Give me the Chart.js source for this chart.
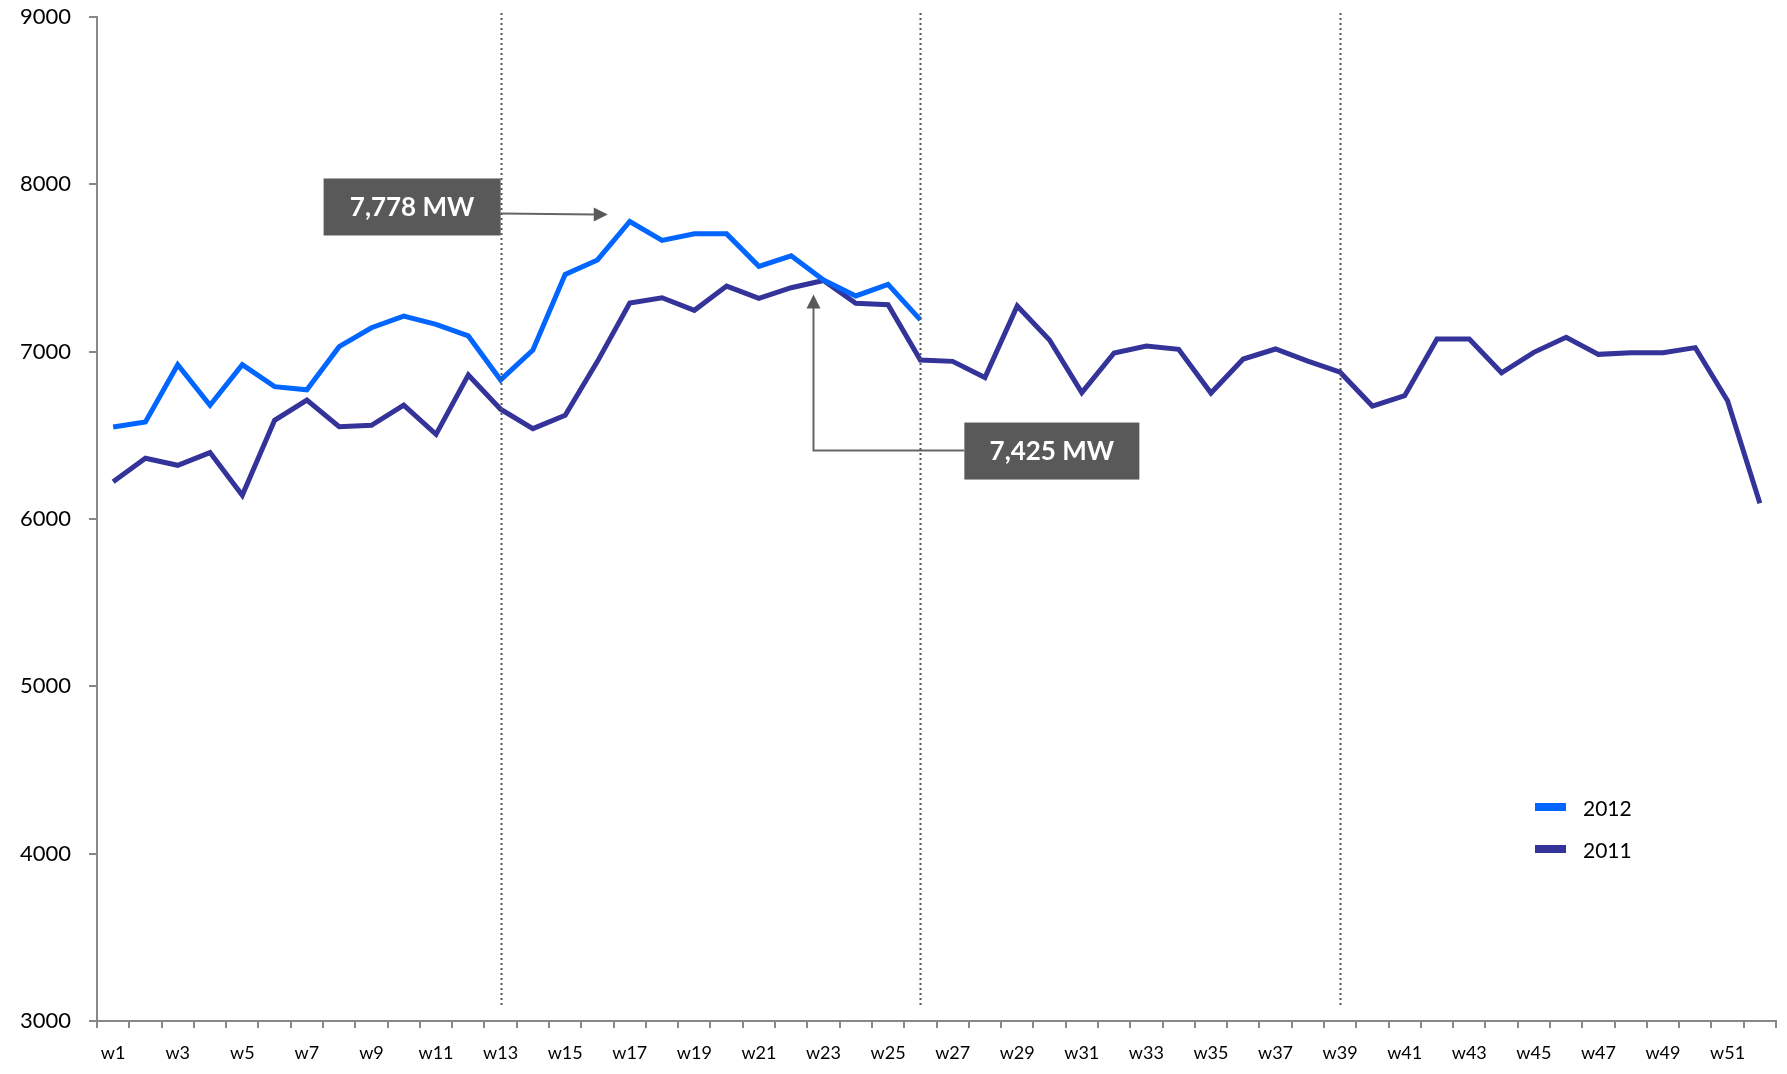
<!DOCTYPE html>
<html>
<head>
<meta charset="utf-8">
<script src="https://cdn.jsdelivr.net/npm/chart.js@4.4.1/dist/chart.umd.min.js"></script>
<style>
  html, body { margin: 0; padding: 0; background: #fff; }
  #wrap { width: 1787px; height: 1074px; }
</style>
</head>
<body>
<div id="wrap"><canvas id="myChart" width="1787" height="1074"></canvas></div>
<script>
// Semanas (categorías del eje X)
const weeks = ['w1','w2','w3','w4','w5','w6','w7','w8','w9','w10','w11','w12','w13',
               'w14','w15','w16','w17','w18','w19','w20','w21','w22','w23','w24','w25','w26',
               'w27','w28','w29','w30','w31','w32','w33','w34','w35','w36','w37','w38','w39',
               'w40','w41','w42','w43','w44','w45','w46','w47','w48','w49','w50','w51','w52'];

// Demanda semanal (MW)
const demand2012 = [6550, 6580, 6922, 6680, 6922, 6791, 6772, 7030, 7143, 7212, 7163, 7094, 6831,
                    7010, 7462, 7548, 7778, 7665, 7704, 7704, 7510, 7573, 7428, 7333, 7402, 7190];
const demand2011 = [6222, 6363, 6321, 6397, 6142, 6590, 6711, 6552, 6560, 6680, 6506, 6861, 6656,
                    6540, 6620, 6942, 7291, 7322, 7247, 7392, 7318, 7382, 7425, 7289, 7281, 6950,
                    6942, 6845, 7273, 7070, 6755, 6992, 7034, 7014, 6753, 6956, 7016, 6944, 6877,
                    6675, 6737, 7076, 7076, 6874, 6996, 7086, 6984, 6994, 6994, 7024, 6707, 6094];

// Ticks del eje Y
const yTicks = [3000, 4000, 5000, 6000, 7000, 8000, 9000];

// Líneas punteadas de fin de trimestre
const quarterWeeks = ['w13', 'w26', 'w39'];

// Picos anotados
const peak2012 = { week: 'w17', value: 7778, text: '7,778 MW' };
const peak2011 = { week: 'w23', value: 7425, text: '7,425 MW' };

const FONT = "Lato, 'Open Sans', sans-serif";

function drawBox(ctx, x, y, w, h, text) {
    ctx.fillStyle = '#595959';
    ctx.fillRect(x, y, w, h);
    ctx.fillStyle = '#ffffff';
    ctx.font = "bold 26px " + FONT;
    ctx.textAlign = 'center';
    ctx.textBaseline = 'middle';
    ctx.fillText(text, x + w / 2, y + h / 2 + 1);
}

// Anotaciones y líneas punteadas (dibujadas encima de las series)
const annotationPlugin = {
    id: 'annotations',
    afterDatasetsDraw(chart) {
        const { ctx, chartArea, scales: { x, y } } = chart;
        ctx.save();

        // Caja 2012 con flecha hacia la derecha
        const q1 = x.getPixelForValue(weeks.indexOf(quarterWeeks[0]));
        const ay = y.getPixelForValue(peak2012.value) - 8;
        drawBox(ctx, q1 - 177, ay - 35, 177, 57, peak2012.text);
        const tipX = x.getPixelForValue(weeks.indexOf(peak2012.week)) - 22;
        ctx.strokeStyle = '#666';
        ctx.lineWidth = 2;
        ctx.beginPath();
        ctx.moveTo(q1, ay);
        ctx.lineTo(tipX - 12, ay + 1);
        ctx.stroke();
        ctx.fillStyle = '#595959';
        ctx.beginPath();
        ctx.moveTo(tipX, ay + 1);
        ctx.lineTo(tipX - 14, ay - 6);
        ctx.lineTo(tipX - 14, ay + 8);
        ctx.closePath();
        ctx.fill();

        // Caja 2011 con conector en L hacia arriba
        const q2 = x.getPixelForValue(weeks.indexOf(quarterWeeks[1]));
        const py = y.getPixelForValue(peak2011.value);
        const cy = py + 170;
        drawBox(ctx, q2 + 44, cy - 28, 175, 57, peak2011.text);
        const vx = x.getPixelForValue(weeks.indexOf(peak2011.week)) - 10;
        const tipY = py + 14;
        ctx.strokeStyle = '#666';
        ctx.beginPath();
        ctx.moveTo(q2 + 44, cy);
        ctx.lineTo(vx, cy);
        ctx.lineTo(vx, tipY + 12);
        ctx.stroke();
        ctx.fillStyle = '#595959';
        ctx.beginPath();
        ctx.moveTo(vx, tipY);
        ctx.lineTo(vx - 7, tipY + 14);
        ctx.lineTo(vx + 7, tipY + 14);
        ctx.closePath();
        ctx.fill();

        // Líneas punteadas
        ctx.strokeStyle = '#555';
        ctx.lineWidth = 2;
        ctx.setLineDash([2, 3]);
        quarterWeeks.forEach(w => {
            const px = Math.round(x.getPixelForValue(weeks.indexOf(w))) + 0.5;
            ctx.beginPath();
            ctx.moveTo(px, chartArea.top - 4);
            ctx.lineTo(px, chartArea.bottom - 16);
            ctx.stroke();
        });
        ctx.setLineDash([]);

        // Leyenda dentro del área
        chart.data.datasets.forEach((ds, i) => {
            const lx = chartArea.right - 241;
            const ly = chartArea.top + 786 + i * 42;
            ctx.fillStyle = ds.borderColor;
            ctx.fillRect(lx, ly, 31, 8);
            ctx.fillStyle = '#000';
            ctx.font = "21px " + FONT;
            ctx.textAlign = 'left';
            ctx.textBaseline = 'middle';
            ctx.fillText(ds.label, lx + 48, ly + 6);
        });

        ctx.restore();
    }
};

const ctx = document.getElementById('myChart').getContext('2d');
const chart = new Chart(ctx, {
    type: 'line',
    data: {
        labels: weeks,
        datasets: [{
            label: '2012',
            data: demand2012,
            borderColor: '#0066FF',
            borderWidth: 5,
            pointRadius: 0,
            tension: 0,
            fill: false
        }, {
            label: '2011',
            data: demand2011,
            borderColor: '#333399',
            borderWidth: 5,
            pointRadius: 0,
            tension: 0,
            fill: false
        }]
    },
    options: {
        responsive: false,
        animation: false,
        layout: { padding: { top: 17, right: 11, left: 0, bottom: 0 } },
        plugins: {
            legend: { display: false },
            tooltip: { enabled: false }
        },
        scales: {
            x: {
                offset: true,
                grid: {
                    offset: true,
                    drawOnChartArea: false,
                    drawTicks: true,
                    tickLength: 7,
                    color: '#888',
                    lineWidth: 2
                },
                border: { color: '#888', width: 2 },
                ticks: {
                    autoSkip: false,
                    maxRotation: 0,
                    padding: 14,
                    color: '#000',
                    font: { family: FONT, size: 18 },
                    callback: function (val, idx) { return idx % 2 === 0 ? this.getLabelForValue(val) : ''; }
                },
                afterFit(scale) { scale.height = 53; }
            },
            y: {
                min: 3000,
                max: 9000,
                afterBuildTicks(scale) { scale.ticks = yTicks.map(v => ({ value: v })); },
                grid: {
                    drawOnChartArea: false,
                    drawTicks: true,
                    tickLength: 8,
                    color: '#888',
                    lineWidth: 2
                },
                border: { color: '#888', width: 2 },
                ticks: {
                    padding: 18,
                    color: '#000',
                    font: { family: FONT, size: 22 },
                    callback: v => String(v)
                },
                afterFit(scale) {
                    scale.width = 97;
                    scale.paddingTop = 0;
                    scale.paddingBottom = 0;
                }
            }
        }
    },
    plugins: [annotationPlugin]
});
</script>
</body>
</html>
